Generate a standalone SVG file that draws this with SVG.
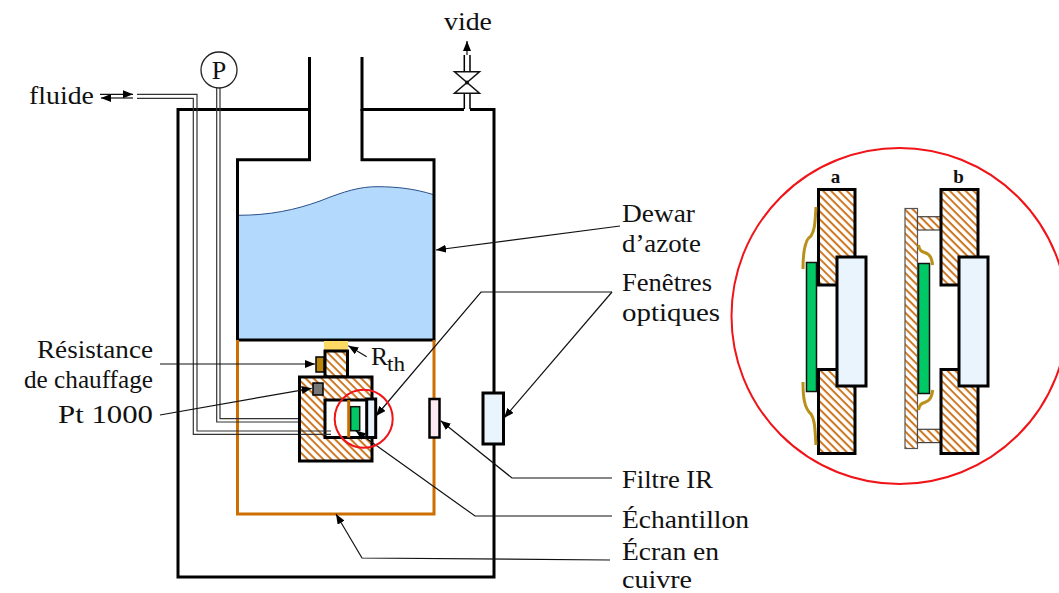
<svg xmlns="http://www.w3.org/2000/svg" width="1059" height="593" viewBox="0 0 1059 593">
<style>
text{font-family:"Liberation Serif","Times New Roman",serif;font-size:26px;fill:#111}
.b{font-weight:bold;font-size:19px}
.k{fill:none;stroke:#000;stroke-width:3}
.h{fill:url(#hatch);stroke:#000;stroke-width:3}
.w{fill:#eaf4fd;stroke:#000;stroke-width:3}
.g{fill:#00c864;stroke:#111;stroke-width:1.5}
.t{fill:none;stroke:#333;stroke-width:1.2}
.c{fill:none;stroke:#111;stroke-width:1.2;marker-end:url(#ah)}
.gold{fill:none;stroke:#b8901a;stroke-width:3}
.red{fill:none;stroke:#f01418;stroke-width:2}
.cu{fill:none;stroke:#cc6e00;stroke-width:3}
.s{font-size:25px}
</style>
<defs>
<pattern id="hatch" width="5.600" height="5.600" patternUnits="userSpaceOnUse" patternTransform="rotate(45)"><rect width="5.600" height="5.600" fill="#fff"/><rect width="5.600" height="2" fill="#cc7722"/></pattern>
<marker id="ah" markerWidth="11" markerHeight="8" refX="10" refY="4" orient="auto" markerUnits="userSpaceOnUse"><path d="M0 0L10 4L0 8z" fill="#000"/></marker>
</defs>
<g id="cryostat">
<path class="k" d="M309.500 57V109.500H178V577H494V109.500H470M464 109.500H362V57"/>
</g>
<g id="dewar">
<path d="M238 215.300C270 215.300 295 210 320 201C345 191 360 186.700 377 186.700C398 186.700 415 189 433 194.500V340H238z" fill="#b3d9fc"/>
<path d="M238 215.300C270 215.300 295 210 320 201C345 191 360 186.700 377 186.700C398 186.700 415 189 433 194.500" fill="none" stroke="#2a4f8a" stroke-width="1"/>
<path class="k" d="M309.500 109V159.700H237.500V340H434V159.700H362V109"/>
</g>
<g id="ecran">
<path class="cu" d="M237.500 340V514H434V340"/>
</g>
<g id="tubes">
<path class="t" d="M137 94.300H197V431H331M137 98.300H193.300V434.300H331"/>
<path class="t" d="M220 88V418.700H300M216.700 88V422H300"/>
</g>
<g id="porte-echantillon">
<rect x="324" y="341" width="24" height="10" fill="#ffd966"/>
<rect class="h" x="325" y="351" width="22.500" height="26"/>
<rect class="h" x="299.500" y="377" width="72.500" height="84"/>
<rect x="325" y="400" width="50.500" height="37.500" fill="#fff" stroke="#000" stroke-width="3"/>
<path d="M300 431H331M300 434.300H331" class="t"/>
<path d="M348.700 400V437.500" class="cu"/>
<rect class="g" x="350.700" y="406.700" width="9" height="24"/>
<rect class="w" x="366.700" y="399" width="9" height="38.500"/>
</g>
<g id="resistance"><rect x="316" y="357" width="8" height="15" fill="#b8860b" stroke="#000" stroke-width="1.500"/></g>
<g id="pt1000"><rect x="313" y="383" width="10" height="12" fill="#777" stroke="#000" stroke-width="1.500"/></g>
<g id="filtre"><rect x="429.500" y="399" width="10" height="38.500" fill="#fde9f1" stroke="#000" stroke-width="2.500"/></g>
<g id="fenetre"><rect x="483" y="393" width="20.500" height="51" class="w"/></g>
<g id="manometre">
<circle cx="219" cy="70" r="18" fill="#fff" stroke="#222" stroke-width="1.300"/>
<text x="219" y="79" text-anchor="middle">P</text>
</g>
<g id="vanne">
<path d="M464.300 55V71.700M470 55V71.700M464.300 93.300V109M470 93.300V109" stroke="#000" stroke-width="1.500" fill="none"/>
<path d="M454.500 71.700H479.500L454.500 93.300H479.500z" fill="#fff" stroke="#111" stroke-width="1.500"/>
<circle cx="467" cy="82.500" r="2" fill="#111"/>
</g>
<g id="connectors">
<path class="c" d="M100 94.300H133"/>
<path class="c" d="M133 98H101"/>
<path class="c" d="M467 55V41"/>
<path class="c" d="M620 226L436 250"/>
<path class="c" d="M612 292H481L376 416"/>
<path class="c" d="M612 292L504 418"/>
<path class="c" d="M612 478H512L440.700 420.700"/>
<path class="c" d="M612 516H475L355.700 430.700"/>
<path class="c" d="M610 560L362 558L336 514"/>
<path class="c" d="M160 364H315"/>
<path class="c" d="M160 415L311.700 388.300"/>
<path class="c" d="M366.700 356.700L348.300 345.700"/>
</g>
<circle class="red" cx="363.700" cy="418.700" r="29"/>
<circle class="red" cx="899.500" cy="316" r="168"/>
<g id="detail-a">
<rect class="h" x="818.500" y="189.500" width="36.500" height="95.500"/>
<rect class="h" x="818.500" y="369.500" width="36.500" height="84"/>
<rect class="w" x="837" y="257" width="29" height="129"/>
<rect class="g" x="806.500" y="262.500" width="10" height="129"/>
<path class="gold" d="M816 207C815 222 815 230 811 236C804 240 803 255 803 269"/>
<path class="gold" d="M803 382C803 396 804 408 811 414C815 420 815 430 816 445"/>
<text class="b" x="835.500" y="183" text-anchor="middle">a</text>
</g>
<g id="detail-b">
<rect x="905" y="208.500" width="12.500" height="240" fill="url(#hatch)" stroke="#555" stroke-width="1.200"/>
<rect x="917.500" y="216.700" width="23.500" height="13.300" fill="url(#hatch)" stroke="#444" stroke-width="1.200"/>
<rect x="917.500" y="429.300" width="23.500" height="13.300" fill="url(#hatch)" stroke="#444" stroke-width="1.200"/>
<rect class="h" x="941" y="189.500" width="37" height="95.500"/>
<rect class="h" x="941" y="369.500" width="37" height="84"/>
<rect class="w" x="959" y="257" width="29" height="129"/>
<rect class="g" x="918.500" y="263.500" width="11" height="130"/>
<path class="gold" d="M918.500 245C920 254 925 251 929 255C932 258 932 262 932.700 265"/>
<path class="gold" d="M932.700 390C932 394 932 397 929 400C925 404 920 401 918.500 410"/>
<text class="b" x="958.500" y="183" text-anchor="middle">b</text>
</g>
<g id="labels">
<text x="29" y="104" textLength="65" lengthAdjust="spacingAndGlyphs">fluide</text>
<text x="444" y="30" textLength="48" lengthAdjust="spacingAndGlyphs">vide</text>
<text x="622" y="222" textLength="73" lengthAdjust="spacingAndGlyphs">Dewar</text>
<text x="622" y="252" textLength="79" lengthAdjust="spacingAndGlyphs">d’azote</text>
<text x="622" y="291" textLength="90" lengthAdjust="spacingAndGlyphs">Fenêtres</text>
<text x="622" y="321" textLength="98" lengthAdjust="spacingAndGlyphs">optiques</text>
<text x="622" y="487.500" textLength="91" lengthAdjust="spacingAndGlyphs">Filtre IR</text>
<text x="622" y="527.500" textLength="127" lengthAdjust="spacingAndGlyphs">Échantillon</text>
<text class="s" x="622" y="559.500" textLength="97" lengthAdjust="spacingAndGlyphs">Écran en</text>
<text class="s" x="622" y="587.500" textLength="70" lengthAdjust="spacingAndGlyphs">cuivre</text>
<text x="37" y="358" textLength="116" lengthAdjust="spacingAndGlyphs">Résistance</text>
<text x="24" y="388" textLength="129" lengthAdjust="spacingAndGlyphs">de chauffage</text>
<text x="58" y="423" textLength="95" lengthAdjust="spacingAndGlyphs">Pt 1000</text>
<text x="371" y="365" textLength="17" lengthAdjust="spacingAndGlyphs">R</text>
<text x="387" y="370.500" textLength="18" lengthAdjust="spacingAndGlyphs" style="font-size:20px">th</text>
</g>
</svg>
